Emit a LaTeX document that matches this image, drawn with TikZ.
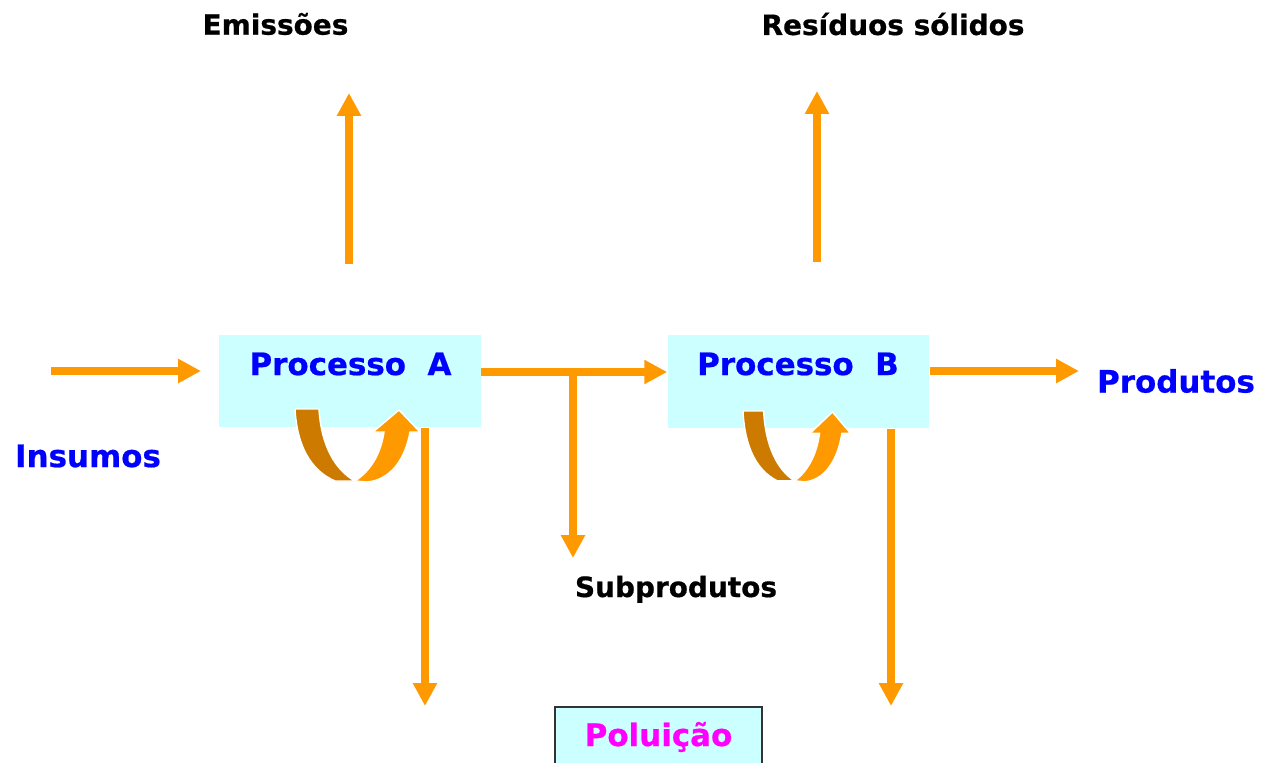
\documentclass[tikz,border=0pt]{standalone}
\usepackage{fontspec}
\setmainfont{DejaVu Sans}[BoldFeatures={FakeBold=0.6}]
\usetikzlibrary{arrows.meta}
\definecolor{flow}{HTML}{FF9900}
\definecolor{flowdark}{HTML}{CC7A00}
\definecolor{boxfill}{HTML}{CCFFFF}
\definecolor{labelblue}{HTML}{0000FF}
\definecolor{labelmag}{HTML}{FF00FF}
\begin{document}
\begin{tikzpicture}[x=0.02cm,y=-0.02cm,
  flowarrow/.style={draw=flow, line width=4.4pt, -{Triangle[length=13pt,width=13pt]}},
  procbox/.style={fill=boxfill, draw=none, inner sep=0pt, minimum width=5.24cm, minimum height=1.85cm},
  proctext/.style={font=\fontsize{17.6pt}{20pt}\selectfont\bfseries, text=labelblue, inner sep=0pt},
  blueword/.style={font=\fontsize{17.6pt}{20pt}\selectfont\bfseries, text=labelblue, inner sep=0pt},
  blackword/.style={font=\fontsize{15.9pt}{18pt}\selectfont\bfseries, text=black, inner sep=0pt},
  loopback/.pic={
    % recycling loop under a process box
    \filldraw[fill=flowdark, draw=white, line width=0.8pt]
      (0,0) -- (24,0) .. controls (26,36) and (40,61) .. (60,72)
      -- (40,72) .. controls (15,61) and (2,36) .. (0,0) -- cycle;
    \filldraw[fill=flow, draw=white, line width=0.8pt]
      (60,72) .. controls (77,61) and (86,43) .. (89,23)
      -- (78,23) -- (104,1) -- (125,23) -- (115,23)
      .. controls (110,51) and (95,71) .. (72,73) -- cycle;
  }]
\useasboundingbox (0,0) rectangle (1272,762);

% process boxes
\node[procbox] (procA) at (350,381) {};
\node[procbox, minimum height=1.87cm] (procB) at (798.5,381.5) {};
\node[proctext] (procAtxt) at (350.5,364) {Processo\ \ A};
\node[proctext] (procBtxt) at (798,364) {Processo\ \ B};

% recycling loops
\pic at (295,409) {loopback};
\pic[xscale=0.86, yscale=0.97] at (743,411) {loopback};

% labels
\node[blueword] (insumos) at (88,456) {Insumos};
\node[blueword] (produtos) at (1176,381) {Produtos};
\node[blackword] (emissoes) at (275.5,24) {Emissões};
\node[blackword] (residuos) at (893,24) {Resíduos sólidos};
\node[blackword, anchor=base] (subprod) at (676,597) {Subprodutos};
\node[fill=boxfill, draw=black!80, line width=1pt, inner sep=0pt,
      minimum width=4.14cm, minimum height=1.16cm] (polbox) at (658.5,736) {};
\node[font=\fontsize{17.6pt}{20pt}\selectfont\bfseries, text=labelmag, inner sep=0pt]
  (poluicao) at (658.5,737) {Poluição};

% free ends of the flows
\coordinate (inStart) at (51,371);
\coordinate (inTip) at (201,371);
\coordinate (hub) at (573,372);
\coordinate (subTip) at (573,558);
\coordinate (outTip) at (1079,371);
\coordinate (emBase) at (349,264);
\coordinate (emTip) at (349,93);
\coordinate (resBase) at (817,262);
\coordinate (resTip) at (817,91);
\coordinate (polA) at (425,706);
\coordinate (polB) at (891,706);

% flows
\draw[flowarrow] (inStart) -- (inTip);
\draw[flowarrow] (procA.east |- hub) -- (procB.west |- hub);
\draw[flowarrow] (hub) -- (subTip);
\draw[flowarrow] (procB.east |- outTip) -- (outTip);
\draw[flowarrow] (emBase) -- (emTip);
\draw[flowarrow] (resBase) -- (resTip);
\draw[flowarrow] (procA.south -| polA) -- (polA);
\draw[flowarrow] (procB.south -| polB) -- (polB);
\end{tikzpicture}
\end{document}
